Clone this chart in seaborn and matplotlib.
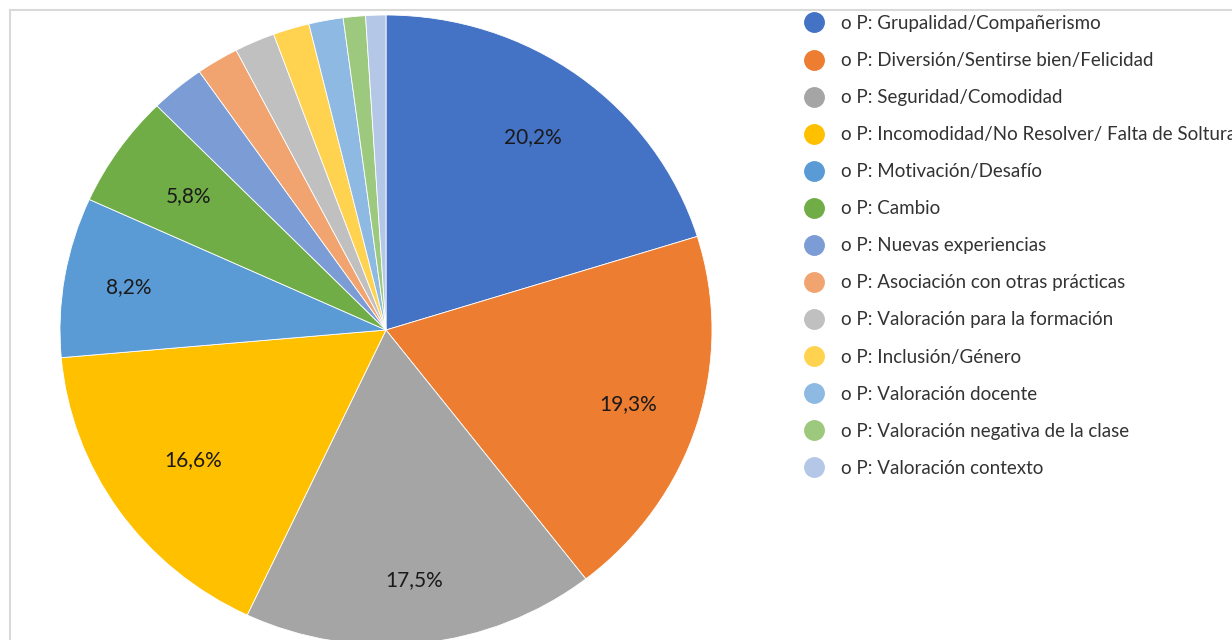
import numpy as np
import matplotlib.pyplot as plt
import seaborn as sns
from matplotlib.lines import Line2D
from matplotlib.patches import Rectangle

# Categories in clockwise order starting at 12 o'clock
categories = [
    "P: Grupalidad/Compañerismo",
    "P: Diversión/Sentirse bien/Felicidad",
    "P: Seguridad/Comodidad",
    "P: Incomodidad/No Resolver/ Falta de Soltura",
    "P: Motivación/Desafío",
    "P: Cambio",
    "P: Nuevas experiencias",
    "P: Asociación con otras prácticas",
    "P: Valoración para la formación",
    "P: Inclusión/Género",
    "P: Valoración docente",
    "P: Valoración negativa de la clase",
    "P: Valoración contexto",
]
values = [20.2, 19.3, 17.5, 16.6, 8.2, 5.8, 2.7, 2.1, 2.0, 1.8, 1.7, 1.1, 1.0]
colors = [
    "#4472C4", "#ED7D31", "#A5A5A5", "#FFC000", "#5B9BD5", "#70AD47",
    "#7C9CD6", "#F1A46F", "#C0C0C0", "#FFD24F", "#8DB9E3", "#9DC97E", "#B4C7E7",
]
# only the large slices carry a label
shown_labels = ["20,2%", "19,3%", "17,5%", "16,6%", "8,2%", "5,8%"]

sns.set_theme(style="white")
plt.rcParams["font.family"] = ["Lato", "DejaVu Sans"]

W, H = 1232, 640
fig = plt.figure(figsize=(W / 100, H / 100), dpi=100)
fig.patch.set_facecolor("white")

# light frame of the chart area
fig.add_artist(Rectangle((10 / W, -0.1), 1.2, (H - 10) / H + 0.1, transform=fig.transFigure,
                         fill=False, edgecolor="#d9d9d9", linewidth=1.5))

# pie axes (slightly wider than tall, as in the reference)
cx, cy, rx, ry = 386, 330, 326, 315
ax = fig.add_axes([(cx - rx) / W, (H - cy - ry) / H, 2 * rx / W, 2 * ry / H])
wedges, _ = ax.pie(values, colors=colors, startangle=90, counterclock=False,
                   wedgeprops=dict(linewidth=0.6, edgecolor="white"))
ax.set_aspect("auto")
ax.set_xlim(-1, 1)
ax.set_ylim(-1, 1)
ax.axis("off")

# percentage labels
cum = np.cumsum([0] + values)
dists = [0.76, 0.78, 0.80, 0.72, 0.80, 0.74]
for i, txt in enumerate(shown_labels):
    mid = (cum[i] + cum[i + 1]) / 2 / 100 * 2 * np.pi
    ang = np.pi / 2 - mid
    ax.text(dists[i] * np.cos(ang), dists[i] * np.sin(ang), txt,
            ha="center", va="center", fontsize=15, color="#1a1a1a")

# legend (the longest entry runs past the right edge, as in the reference)
handles = [Line2D([0], [0], marker="o", linestyle="", markersize=14,
                  markerfacecolor=c, markeredgecolor=c) for c in colors]
leg_labels = ["o " + c for c in categories]
fig.legend(handles, leg_labels, loc="upper left", bbox_to_anchor=(803 / W, (H - 15) / H),
           frameon=False, fontsize=13.5, labelspacing=1.07, handlelength=1.2,
           handletextpad=0.85, borderpad=0, borderaxespad=0, labelcolor="#333333")

fig.savefig("out.png", dpi=100)
